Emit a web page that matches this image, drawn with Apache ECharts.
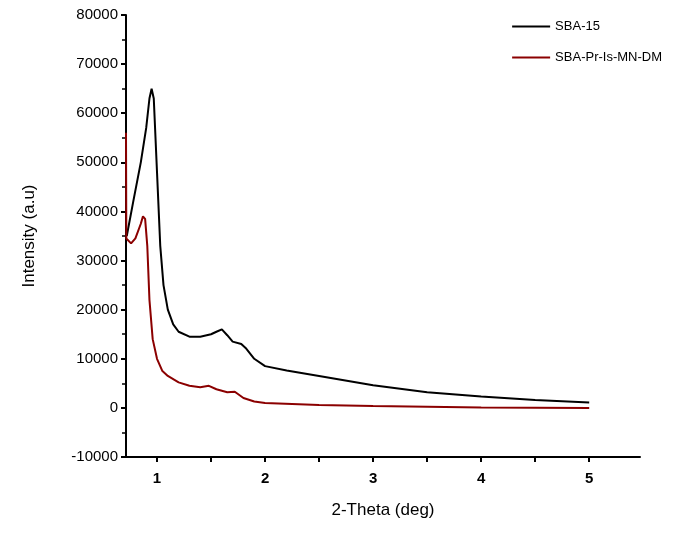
<!DOCTYPE html><html><head><meta charset="utf-8">
<script src="https://cdn.jsdelivr.net/npm/echarts@6/dist/echarts.min.js"></script>
<style>body{margin:0;background:#fff}#c{width:685px;height:534px}</style></head><body><div id="c"></div>
<script>
const sbaX=[0.72,0.78,0.85,0.9,0.93,0.95,0.97,1.0,1.03,1.06,1.1,1.15,1.2,1.3,1.4,1.5,1.55,1.6,1.65,1.7,1.78,1.82,1.9,2.0,2.2,2.5,3.0,3.5,4.0,4.5,5.0];
const sbaY=[35000,42000,50000,57000,63000,65000,63000,48000,33000,25000,20000,17000,15500,14500,14500,15000,15500,16000,14800,13500,13000,12200,10000,8500,7600,6500,4600,3200,2300,1600,1100];
const modX=[0.713,0.716,0.76,0.8,0.85,0.87,0.89,0.91,0.93,0.96,1.0,1.05,1.1,1.2,1.3,1.4,1.48,1.55,1.65,1.72,1.8,1.9,2.0,2.5,3.0,3.5,4.0,4.5,5.0];
const modY=[56000,34500,33500,34500,37500,39000,38500,33000,22000,14000,10000,7500,6500,5200,4500,4200,4500,3800,3200,3300,2000,1300,1000,600,400,250,100,50,0];
const xTicks=[1,2,3,4,5];
const ch=echarts.init(document.getElementById('c'));
ch.setOption({
 animation:false,
 grid:{left:126,right:45,top:15,bottom:77},
 legend:{right:18,top:15,orient:'vertical',itemGap:18,itemWidth:38,itemHeight:2,icon:'rect',textStyle:{fontFamily:'Arial',fontSize:13,color:'#000'},data:['SBA-15','SBA-Pr-Is-MN-DM']},
 xAxis:{type:'value',min:0.713,max:5.47,name:'2-Theta (deg)',nameLocation:'middle',nameGap:45,nameTextStyle:{fontFamily:'Arial',fontSize:17,color:'#000'},
  axisLine:{onZero:false,lineStyle:{color:'#000',width:2}},splitLine:{show:false},
  axisLabel:{color:'#000',fontFamily:'Arial',fontSize:15,fontWeight:'bold',margin:14,customValues:xTicks},
  axisTick:{length:5,lineStyle:{color:'#000',width:2},customValues:[1,1.5,2,2.5,3,3.5,4,4.5,5]}},
 yAxis:{type:'value',min:-10000,max:80000,interval:10000,name:'Intensity (a.u)',nameLocation:'middle',nameGap:88,nameTextStyle:{fontFamily:'Arial',fontSize:17,color:'#000'},
  axisLine:{lineStyle:{color:'#000',width:2}},splitLine:{show:false},
  axisTick:{length:5,lineStyle:{color:'#000',width:2}},
  minorTick:{show:true,splitNumber:2,length:4,lineStyle:{color:'#000',width:1.5}},
  axisLabel:{color:'#000',fontFamily:'Arial',fontSize:15,formatter:v=>String(v)}},
 series:[
  {name:'SBA-15',type:'line',showSymbol:false,color:'#000',lineStyle:{width:2},data:sbaX.map((x,i)=>[x,sbaY[i]])},
  {name:'SBA-Pr-Is-MN-DM',type:'line',showSymbol:false,color:'#8b0000',lineStyle:{width:2},data:modX.map((x,i)=>[x,modY[i]])}
 ]
});
</script></body></html>
